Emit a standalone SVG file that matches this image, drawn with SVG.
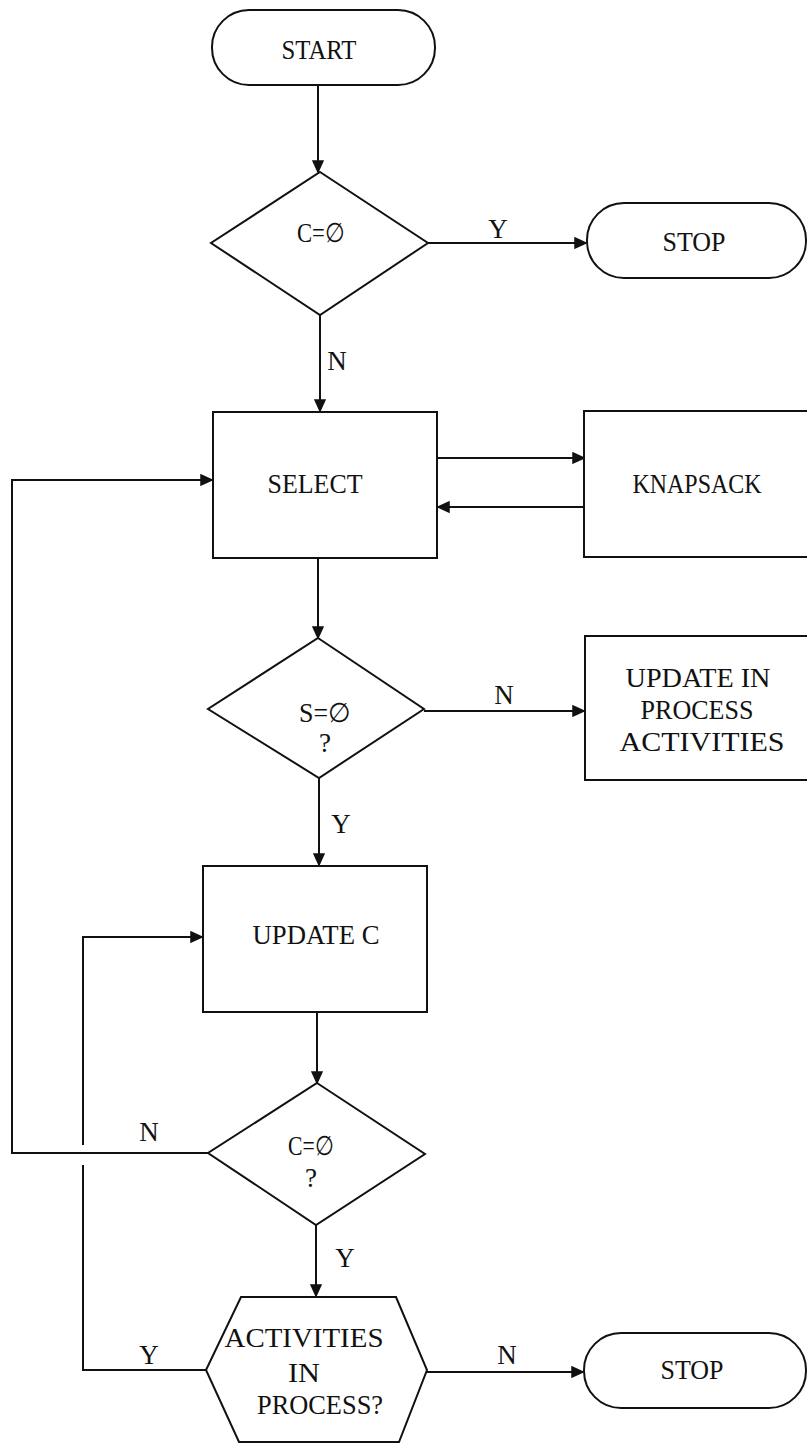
<svg xmlns="http://www.w3.org/2000/svg" width="807" height="1444" viewBox="0 0 807 1444">
<style>
.s{fill:#fff;stroke:#111;stroke-width:2}
.c{fill:none;stroke:#111;stroke-width:2}
text{font-family:"Liberation Serif","DejaVu Serif",serif;font-size:27px;fill:#111;text-anchor:middle}
</style>
<defs>
<marker id="a" markerUnits="userSpaceOnUse" markerWidth="14" markerHeight="12" refX="12" refY="6" orient="auto">
<path d="M1,1 L12,6 L1,11 Z" fill="#111" stroke="#111" stroke-width="1.5"/>
</marker>
</defs>
<rect width="807" height="1444" fill="#fff"/>
<g id="connectors">
<path class="c" d="M318,85 L318,172" marker-end="url(#a)"/>
<path class="c" d="M428,243 L586,243" marker-end="url(#a)"/>
<path class="c" d="M320,315 L320,411" marker-end="url(#a)"/>
<path class="c" d="M437,458 L584,458" marker-end="url(#a)"/>
<path class="c" d="M584,507 L438,507" marker-end="url(#a)"/>
<path class="c" d="M318,558 L318,638" marker-end="url(#a)"/>
<path class="c" d="M424,711 L584,711" marker-end="url(#a)"/>
<path class="c" d="M319,778 L319,865" marker-end="url(#a)"/>
<path class="c" d="M317,1012 L317,1083" marker-end="url(#a)"/>
<path class="c" d="M208,1153 L12,1153 L12,480 L212,480" marker-end="url(#a)"/>
<path class="c" d="M206,1370 L83,1370 L83,1165"/>
<path class="c" d="M83,1145 L83,937 L202,937" marker-end="url(#a)"/>
<path class="c" d="M316,1225 L316,1296" marker-end="url(#a)"/>
<path class="c" d="M427,1372 L583,1372" marker-end="url(#a)"/>
<text x="498" y="238">Y</text>
<text x="337" y="370">N</text>
<text x="504" y="704">N</text>
<text x="341" y="833">Y</text>
<text x="149" y="1141">N</text>
<text x="345" y="1267">Y</text>
<text x="149" y="1364">Y</text>
<text x="507" y="1364">N</text>
</g>
<g id="start">
<rect class="s" x="212" y="10" width="223" height="75" rx="37" ry="37"/>
<text x="319" y="59" textLength="75" lengthAdjust="spacingAndGlyphs">START</text>
</g>
<g id="dec1">
<polygon class="s" points="320,172 428,243 320,315 211,243"/>
<text x="321" y="242" textLength="48" lengthAdjust="spacingAndGlyphs">C=∅</text>
</g>
<g id="stop1">
<rect class="s" x="587" y="203" width="219" height="75" rx="37" ry="37"/>
<text x="694" y="251" textLength="63" lengthAdjust="spacingAndGlyphs">STOP</text>
</g>
<g id="select">
<rect class="s" x="213" y="412" width="224" height="146"/>
<text x="315" y="493" textLength="95" lengthAdjust="spacingAndGlyphs">SELECT</text>
</g>
<g id="knapsack">
<rect class="s" x="584" y="411" width="225" height="146"/>
<text x="697" y="493" textLength="129" lengthAdjust="spacingAndGlyphs">KNAPSACK</text>
</g>
<g id="dec2">
<polygon class="s" points="318,638 424,709 319,778 208,709"/>
<text x="325" y="722" textLength="52" lengthAdjust="spacingAndGlyphs">S=∅</text>
<text x="325" y="752">?</text>
</g>
<g id="update-in-process">
<rect class="s" x="585" y="636" width="224" height="144"/>
<text x="698" y="687" textLength="145" lengthAdjust="spacingAndGlyphs">UPDATE IN</text>
<text x="697" y="719" textLength="113" lengthAdjust="spacingAndGlyphs">PROCESS</text>
<text x="702" y="751" textLength="165" lengthAdjust="spacingAndGlyphs">ACTIVITIES</text>
</g>
<g id="update-c">
<rect class="s" x="203" y="866" width="224" height="146"/>
<text x="316" y="944" textLength="127" lengthAdjust="spacingAndGlyphs">UPDATE C</text>
</g>
<g id="dec3">
<polygon class="s" points="317,1083 425,1154 316,1225 208,1153"/>
<text x="311" y="1155" textLength="46" lengthAdjust="spacingAndGlyphs">C=∅</text>
<text x="311" y="1187">?</text>
</g>
<g id="activities">
<polygon class="s" points="241,1297 396,1297 427,1370 399,1442 239,1442 206,1370"/>
<text x="304" y="1347" textLength="159" lengthAdjust="spacingAndGlyphs">ACTIVITIES</text>
<text x="304" y="1382" textLength="32" lengthAdjust="spacingAndGlyphs">IN</text>
<text x="320" y="1414" textLength="126" lengthAdjust="spacingAndGlyphs">PROCESS?</text>
</g>
<g id="stop2">
<rect class="s" x="584" y="1333" width="222" height="75" rx="37" ry="37"/>
<text x="692" y="1379" textLength="63" lengthAdjust="spacingAndGlyphs">STOP</text>
</g>
</svg>
